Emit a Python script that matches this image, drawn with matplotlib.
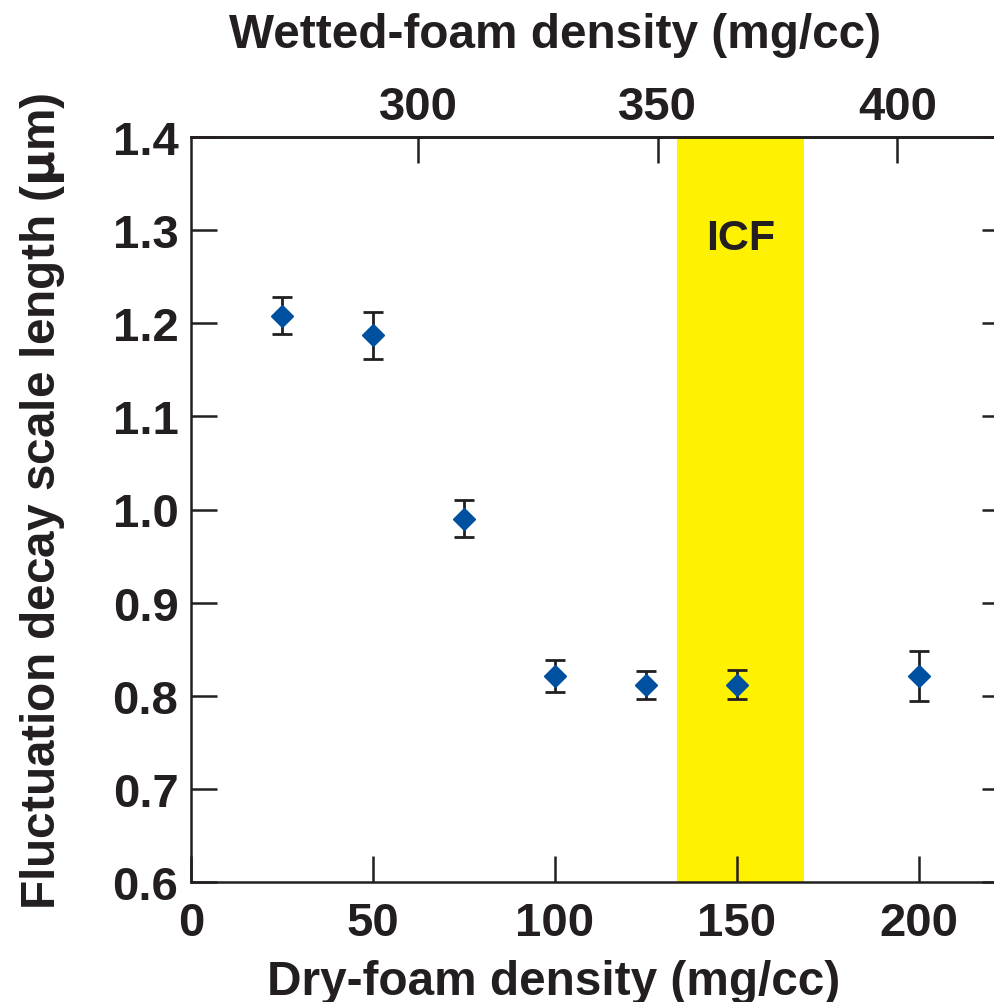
import matplotlib
matplotlib.use("Agg")
import matplotlib.pyplot as plt
import numpy as np

# Data
dry_density = [25, 50, 75, 100, 125, 150, 200]
decay_length = [1.208, 1.187, 0.990, 0.821, 0.812, 0.812, 0.821]
decay_err = [0.020, 0.025, 0.020, 0.017, 0.015, 0.016, 0.027]
icf_band = [133.5, 168.4]
y_ticks = [0.6, 0.7, 0.8, 0.9, 1.0, 1.1, 1.2, 1.3, 1.4]
x_ticks = [0, 50, 100, 150, 200]
top_ticks = [300, 350, 400]
# linear map dry -> wetted foam density
wet_at_zero = 252.6
wet_slope = 0.7596

plt.rcParams['font.family'] = ['Liberation Sans', 'DejaVu Sans']
plt.rcParams['font.weight'] = 'bold'
plt.rcParams['mathtext.fontset'] = 'dejavusans'

INK = '#231F20'
W, H = 994, 1003
fig = plt.figure(figsize=(W/100, H/100), dpi=100)
left_px, right_px, top_px, bot_px = 191, 1008, 138, 883
ax = fig.add_axes([left_px/W, 1-bot_px/H, (right_px-left_px)/W, (bot_px-top_px)/H])

xmax = (right_px-left_px)/3.64
ax.set_xlim(0, xmax)
ax.set_ylim(0.6, 1.4)

ax.axvspan(icf_band[0], icf_band[1], color='#FFF200', lw=0, zorder=0)
ax.text(np.mean(icf_band), 1.292, 'ICF', ha='center', va='center', fontsize=31, fontweight='bold', color=INK)

ax.errorbar(dry_density, decay_length, yerr=decay_err, fmt='D', color=INK,
            ecolor=INK, elinewidth=2.0, capsize=7, capthick=2.0,
            mfc='#0050A0', mec='#0050A0', ms=11, zorder=3)

for s in ['left', 'bottom', 'top']:
    ax.spines[s].set_linewidth(1.8)
    ax.spines[s].set_color(INK)
ax.spines['right'].set_visible(False)

ax.set_xticks(x_ticks)
ax.set_yticks(y_ticks)
ax.set_yticklabels([f'{v:.1f}' for v in y_ticks])
ax.tick_params(axis='both', direction='in', length=18.5, width=1.8, color=INK,
               labelsize=34, labelcolor=INK)
ax.tick_params(axis='y', right=True, pad=9)
ax.tick_params(axis='x', pad=14)

sec = ax.secondary_xaxis('top', functions=(lambda d: wet_at_zero + wet_slope*d,
                                           lambda w: (w - wet_at_zero)/wet_slope))
sec.set_xticks(top_ticks)
sec.tick_params(direction='in', length=18.5, width=1.8, color=INK,
                labelsize=34, labelcolor=INK, pad=6)
sec.spines['top'].set_linewidth(1.8)
sec.set_xlabel('Wetted-foam density (mg/cc)', fontsize=34.4, fontweight='bold', color=INK, va='baseline')
sec.xaxis.set_label_coords(555/W, 1-48/H, transform=fig.transFigure)

ax.set_xlabel('Dry-foam density (mg/cc)', fontsize=34.4, fontweight='bold', color=INK, va='baseline')
ax.xaxis.set_label_coords(554/W, 1-995/H, transform=fig.transFigure)
ax.set_ylabel(r'Fluctuation decay scale length ($\mathrm{\mu}$m)', fontsize=34.4, fontweight='bold', color=INK, va='baseline')
ax.yaxis.set_label_coords(55/W, 1-501/H, transform=fig.transFigure)

fig.savefig('out.png', dpi=100)
